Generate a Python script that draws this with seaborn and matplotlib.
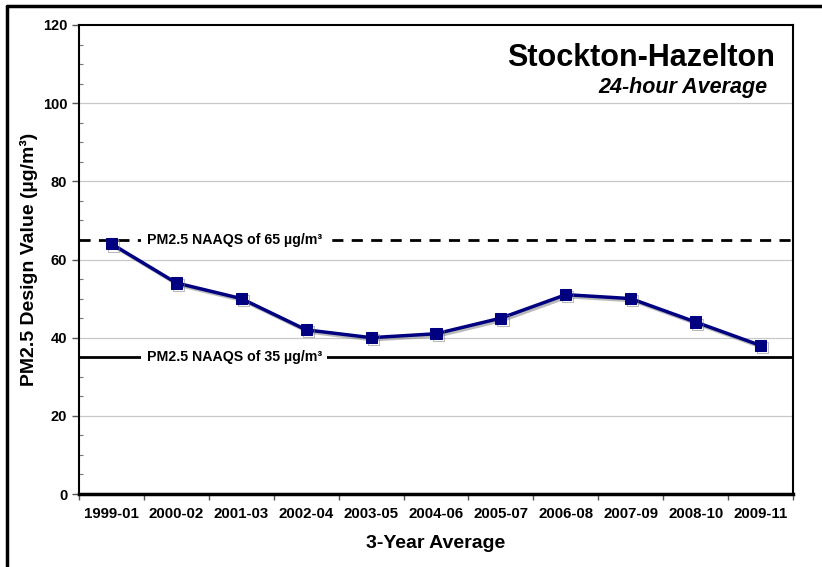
import matplotlib
matplotlib.use("Agg")
import matplotlib.pyplot as plt
import matplotlib.patheffects as pe
from matplotlib.ticker import MultipleLocator, FixedLocator
import seaborn as sns
import pandas as pd

periods = ["1999-01", "2000-02", "2001-03", "2002-04", "2003-05", "2004-06",
           "2005-07", "2006-08", "2007-09", "2008-10", "2009-11"]
design_values = [64, 54, 50, 42, 40, 41, 45, 51, 50, 44, 38]
naaqs_old = 65
naaqs_new = 35

sns.set_theme(style="white")
plt.rcParams["font.family"] = ["Liberation Sans", "DejaVu Sans"]
plt.rcParams.update({"text.color": "black", "axes.labelcolor": "black",
                     "xtick.color": "black", "ytick.color": "black"})

df = pd.DataFrame({"period": periods, "value": design_values})
df["pos"] = range(len(df))

fig = plt.figure(figsize=(8.22, 5.67), dpi=100)
ax = fig.add_axes([79 / 822, 1 - 494 / 567, (793 - 79) / 822, (494 - 25) / 567])

# grid lines
for y in range(20, 120, 20):
    ax.axhline(y, color="#c8c8c8", linewidth=0.9, zorder=0)

# NAAQS lines
ax.axhline(naaqs_old, color="black", linewidth=2, linestyle=(0, (4, 3)), zorder=1)
ax.axhline(naaqs_new, color="black", linewidth=2, zorder=1)

shadow = [pe.SimpleLineShadow(offset=(1.5, -1.5), shadow_color="#777777", alpha=0.5), pe.Normal()]
sns.lineplot(data=df, x="pos", y="value", ax=ax, color="#000080", linewidth=2.5,
             marker="s", markersize=8, markeredgecolor="#000080",
             path_effects=shadow, zorder=3)

ax.text(1.89, naaqs_old, "PM2.5 NAAQS of 65 µg/m³", ha="center", va="center",
        fontsize=10.2, fontweight="bold",
        bbox=dict(facecolor="white", edgecolor="none", pad=4), zorder=2)
ax.text(1.89, naaqs_new, "PM2.5 NAAQS of 35 µg/m³", ha="center", va="center",
        fontsize=10.2, fontweight="bold",
        bbox=dict(facecolor="white", edgecolor="none", pad=4), zorder=2)

ax.text(0.975, 0.93, "Stockton-Hazelton", transform=ax.transAxes, ha="right", va="center",
        fontsize=22, fontweight="bold")
ax.text(0.964, 0.866, "24-hour Average", transform=ax.transAxes, ha="right", va="center",
        fontsize=15.5, fontweight="bold", style="italic")

ax.set_xlim(-0.5, len(periods) - 0.5)
ax.set_ylim(0, 120)
ax.yaxis.set_major_locator(MultipleLocator(20))
ax.yaxis.set_minor_locator(MultipleLocator(5))
ax.set_xticks(df["pos"])
ax.set_xticklabels(periods)
ax.xaxis.set_minor_locator(FixedLocator([i - 0.5 for i in range(len(periods) + 1)]))
ax.tick_params(axis="x", which="major", length=0, labelsize=10.8, pad=9)
ax.tick_params(axis="x", which="minor", length=4, width=1, color="#555555", direction="out", bottom=True)
ax.tick_params(axis="y", which="major", length=5, width=1, color="#555555", labelsize=10.5,
               direction="out", left=True)
ax.tick_params(axis="y", which="minor", length=3, width=0.8, color="#777777",
               direction="in", left=True)
for lbl in ax.get_xticklabels() + ax.get_yticklabels():
    lbl.set_fontweight("bold")

for side in ["left", "bottom", "top", "right"]:
    ax.spines[side].set_visible(True)
    ax.spines[side].set_color("black")
ax.spines["left"].set_linewidth(1.5)
ax.spines["bottom"].set_linewidth(2.5)
ax.spines["top"].set_linewidth(1.5)
ax.spines["right"].set_linewidth(1.5)

ax.set_xlabel("3-Year Average", fontsize=14, fontweight="bold")
ax.set_ylabel("PM2.5 Design Value (µg/m³)", fontsize=14, fontweight="bold")
ax.xaxis.set_label_coords(0.5, -0.087)
ax.yaxis.set_label_coords(-0.057, 0.5)

# outer frame (left and top edges visible)
fig.add_artist(plt.Line2D([7 / 822, 7 / 822], [0, 1 - 6 / 567], color="black", linewidth=2.5,
                          transform=fig.transFigure))
fig.add_artist(plt.Line2D([7 / 822, 1], [1 - 6 / 567, 1 - 6 / 567], color="black", linewidth=2.5,
                          transform=fig.transFigure))

fig.savefig("out.png", dpi=100, facecolor="white")
